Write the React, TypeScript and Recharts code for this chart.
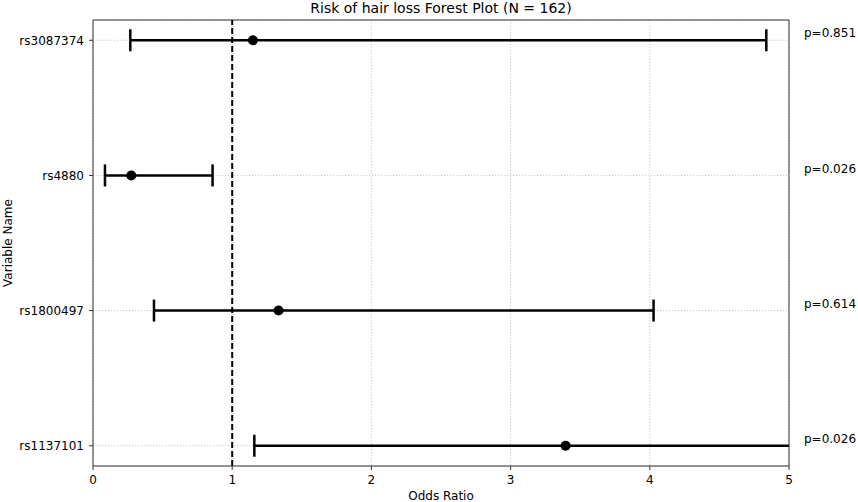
import React from "react";
import {
  ScatterChart,
  Scatter,
  XAxis,
  YAxis,
  CartesianGrid,
  ErrorBar,
  ReferenceLine,
} from "recharts";

const variables = ["rs3087374", "rs4880", "rs1800497", "rs1137101"];
const oddsRatios = [1.149, 0.275, 1.333, 3.395];
const ciLower = [0.268, 0.086, 0.438, 1.159];
const ciUpper = [4.837, 0.859, 4.027, 10.2];
const pValues = ["0.851", "0.026", "0.614", "0.026"];
const xTicks = [0, 1, 2, 3, 4, 5];
const yTicks = [0, 1, 2, 3];

const rows = variables.map((name, i) => ({
  name,
  idx: i,
  or: oddsRatios[i],
  err: [oddsRatios[i] - ciLower[i], ciUpper[i] - oddsRatios[i]],
}));

const FONT = "DejaVu Sans, sans-serif";
const AXIS = "#333";
const FS = 12;

// plot box, used only to clip the error bars that run past x = 5
const PLOT = { x: 93, y: 20, w: 696, h: 446 };

const Dot = (props: any) => (
  <circle cx={props.cx} cy={props.cy} r={5} fill="#000" />
);

const PTick = (props: any) => {
  const { x, y, payload } = props;
  return (
    <text x={x} y={y - 7} dy="0.35em" fontSize={FS} fontFamily={FONT} fill="#000" textAnchor="start">
      {"p=" + pValues[payload.value]}
    </text>
  );
};

const App: React.FC = () => {
  return (
    <div style={{ position: "absolute", left: 0, top: 0, width: 858, height: 502, background: "#fff", fontFamily: FONT }}>
      <style>{`.recharts-errorBars, .recharts-errorBar { clip-path: url(#plotClip); }`}</style>
      <svg width={0} height={0} style={{ position: "absolute" }}>
        <defs>
          <clipPath id="plotClip" clipPathUnits="userSpaceOnUse">
            <rect x={PLOT.x} y={PLOT.y} width={PLOT.w} height={PLOT.h} />
          </clipPath>
        </defs>
      </svg>
      <div
        style={{
          position: "absolute",
          left: PLOT.x,
          width: PLOT.w,
          top: 0,
          textAlign: "center",
          fontSize: 14,
          lineHeight: "16px",
          color: "#000",
          zIndex: 1,
        }}
      >
        Risk of hair loss Forest Plot (N = 162)
      </div>
      <ScatterChart
        width={858}
        height={502}
        margin={{ top: 20, right: 0, bottom: 0, left: 0 }}
      >
        <CartesianGrid stroke="#bbb" strokeWidth={0.8} strokeDasharray="1.2 1.8" />
        <XAxis
          type="number"
          dataKey="or"
          domain={[0, 5]}
          ticks={xTicks}
          allowDataOverflow
          height={36}
          stroke={AXIS}
          tickSize={4}
          tickMargin={5}
          tick={{ fontSize: FS, fill: "#000", fontFamily: FONT }}
          label={{ value: "Odds Ratio", position: "insideBottom", offset: 2, fontSize: FS, fill: "#000", fontFamily: FONT }}
        />
        <YAxis
          type="number"
          dataKey="idx"
          domain={[-0.15, 3.15]}
          reversed
          ticks={yTicks}
          allowDataOverflow
          width={93}
          stroke={AXIS}
          tickSize={4}
          tickMargin={5}
          tickFormatter={(v: number) => variables[v]}
          tick={{ fontSize: FS, fill: "#000", fontFamily: FONT }}
          label={{ value: "Variable Name", angle: -90, position: "insideLeft", offset: 8, fontSize: FS, fill: "#000", fontFamily: FONT, style: { textAnchor: "middle" } }}
        />
        <YAxis
          yAxisId="p"
          orientation="right"
          type="number"
          domain={[-0.15, 3.15]}
          reversed
          ticks={yTicks}
          allowDataOverflow
          width={69}
          stroke={AXIS}
          tickLine={false}
          tickSize={0}
          tickMargin={15}
          tick={<PTick />}
        />
        <ReferenceLine y={-0.15} stroke={AXIS} strokeWidth={1} />
        <ReferenceLine x={1} stroke="#000" strokeWidth={2} strokeDasharray="6 3" />
        <Scatter data={rows} fill="#000" shape={Dot} isAnimationActive={false}>
          <ErrorBar dataKey="err" direction="x" width={11} stroke="#000" strokeWidth={2.5} />
        </Scatter>
        <Scatter yAxisId="p" data={rows} shape={() => null} isAnimationActive={false} />
      </ScatterChart>
    </div>
  );
};

export default App;
